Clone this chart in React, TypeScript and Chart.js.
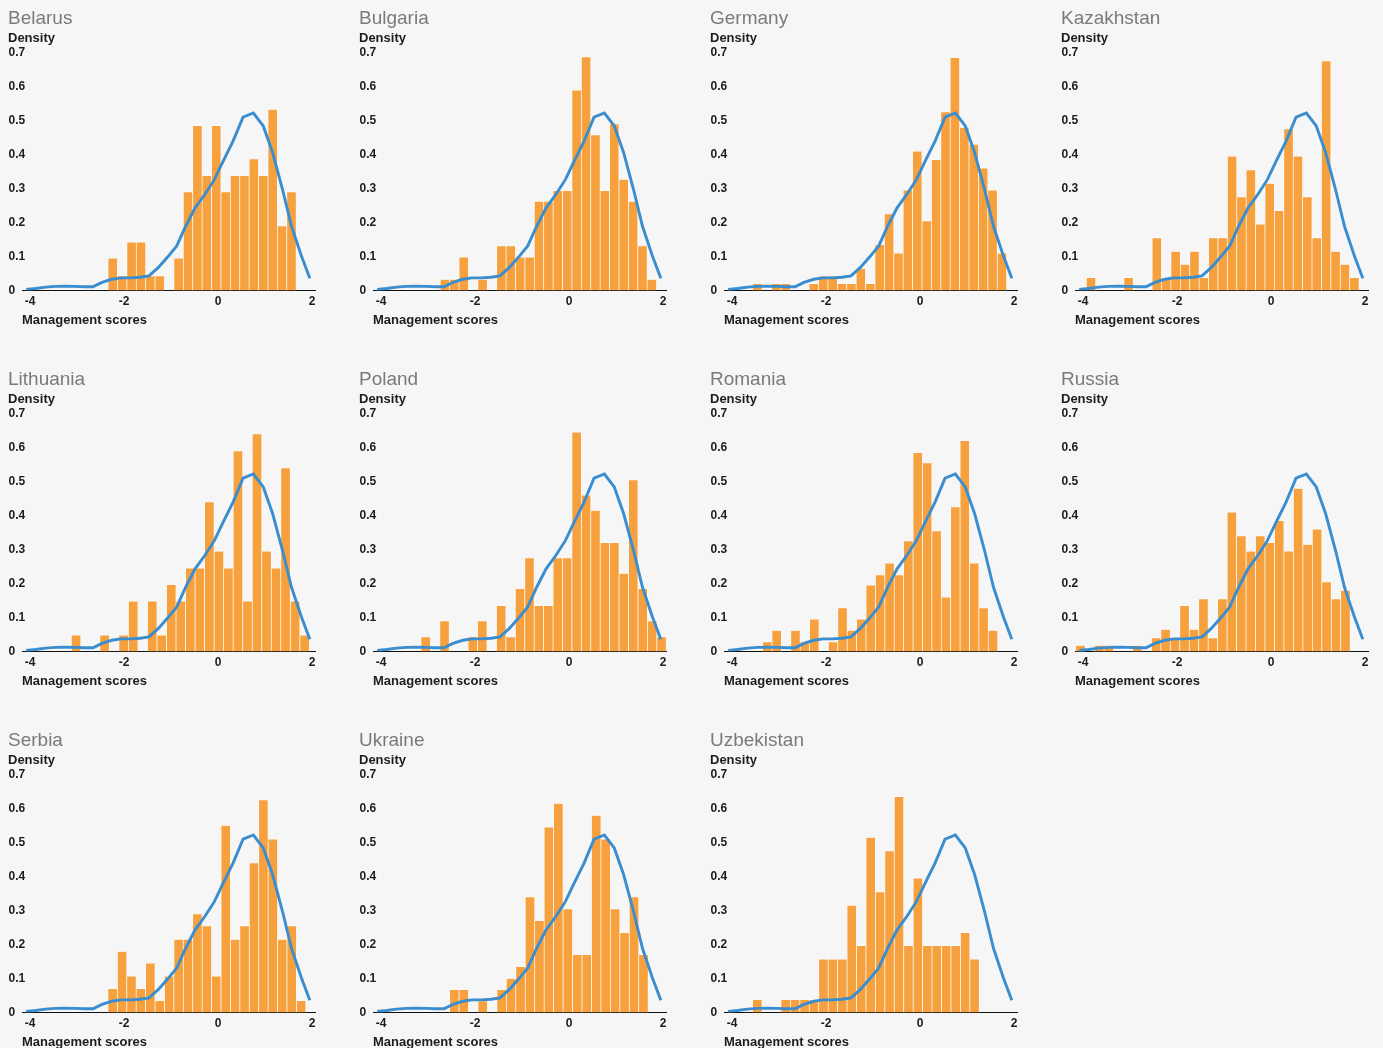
import React, { useEffect, useRef } from 'react';
import { Chart, registerables } from 'chart.js';

Chart.register(...registerables);

// ---------- shared axis data ----------
const xTicks = [-4, -2, 0, 2];
const yTicks = [0, 0.1, 0.2, 0.3, 0.4, 0.5, 0.6, 0.7];

// pooled kernel density (same curve in every panel)
const densityX = [-4.08, -3.88, -3.67, -3.46, -3.25, -3.04, -2.84, -2.66, -2.47, -2.26, -2.07, -1.87, -1.66, -1.47, -1.27, -1.07, -0.88, -0.69, -0.49, -0.28, -0.08, 0.11, 0.32, 0.53, 0.75, 0.96, 1.16, 1.37, 1.56, 1.77, 1.95];
const densityY = [0.003, 0.006, 0.010, 0.012, 0.013, 0.012, 0.011, 0.011, 0.024, 0.033, 0.037, 0.037, 0.039, 0.043, 0.068, 0.099, 0.131, 0.189, 0.243, 0.283, 0.326, 0.381, 0.440, 0.510, 0.522, 0.484, 0.405, 0.297, 0.189, 0.102, 0.036];

// ---------- histogram bins (bin centres) and densities ----------
const belarusBins = [-2.24, -2.04, -1.84, -1.64, -1.44, -1.24, -1.04, -0.84, -0.64, -0.44, -0.24, -0.04, 0.16, 0.36, 0.56, 0.76, 0.96, 1.16, 1.36, 1.56];
const belarusValues = [0.095, 0.043, 0.142, 0.142, 0.043, 0.043, 0, 0.095, 0.29, 0.485, 0.338, 0.485, 0.29, 0.338, 0.338, 0.387, 0.338, 0.533, 0.19, 0.29];

const bulgariaBins = [-2.64, -2.44, -2.24, -2.04, -1.84, -1.64, -1.44, -1.24, -1.04, -0.84, -0.64, -0.44, -0.24, -0.04, 0.16, 0.36, 0.56, 0.76, 0.96, 1.16, 1.36, 1.56, 1.76];
const bulgariaValues = [0.033, 0.033, 0.098, 0, 0.033, 0, 0.131, 0.131, 0.098, 0.098, 0.262, 0.262, 0.294, 0.294, 0.589, 0.687, 0.458, 0.294, 0.49, 0.327, 0.262, 0.131, 0.033];

const germanyBins = [-3.46, -3.26, -3.06, -2.86, -2.66, -2.46, -2.26, -2.06, -1.86, -1.66, -1.46, -1.26, -1.06, -0.86, -0.66, -0.46, -0.26, -0.06, 0.14, 0.34, 0.54, 0.74, 0.94, 1.14, 1.34, 1.54, 1.74];
const germanyValues = [0.02, 0, 0.02, 0.02, 0, 0, 0.02, 0.042, 0.042, 0.02, 0.02, 0.065, 0.02, 0.135, 0.225, 0.11, 0.295, 0.41, 0.205, 0.385, 0.525, 0.685, 0.48, 0.43, 0.36, 0.295, 0.11];

const kazakhstanBins = [-3.83, -3.63, -3.43, -3.23, -3.03, -2.83, -2.63, -2.43, -2.23, -2.03, -1.83, -1.63, -1.43, -1.23, -1.03, -0.83, -0.63, -0.43, -0.23, -0.03, 0.17, 0.37, 0.57, 0.77, 0.97, 1.17, 1.37, 1.57, 1.77];
const kazakhstanValues = [0.038, 0, 0, 0, 0.038, 0, 0, 0.155, 0.038, 0.115, 0.077, 0.115, 0.038, 0.155, 0.155, 0.395, 0.275, 0.355, 0.195, 0.315, 0.235, 0.475, 0.395, 0.275, 0.155, 0.675, 0.115, 0.077, 0.038];

const lithuaniaBins = [-3.021, -2.818, -2.616, -2.413, -2.211, -2.008, -1.806, -1.603, -1.401, -1.198, -0.996, -0.793, -0.591, -0.388, -0.186, 0.017, 0.219, 0.422, 0.624, 0.827, 1.029, 1.232, 1.434, 1.637, 1.839];
const lithuaniaValues = [0.048, 0, 0, 0.048, 0, 0.048, 0.148, 0, 0.148, 0.048, 0.197, 0.148, 0.245, 0.245, 0.44, 0.295, 0.245, 0.59, 0.148, 0.64, 0.295, 0.245, 0.54, 0.148, 0.048];

const polandBins = [-3.05, -2.849, -2.649, -2.448, -2.247, -2.047, -1.846, -1.645, -1.445, -1.244, -1.044, -0.843, -0.642, -0.442, -0.241, -0.041, 0.16, 0.361, 0.561, 0.762, 0.962, 1.163, 1.364, 1.564, 1.765, 1.965];
const polandValues = [0.043, 0, 0.09, 0, 0, 0.043, 0.09, 0, 0.135, 0.043, 0.185, 0.275, 0.135, 0.135, 0.275, 0.275, 0.645, 0.46, 0.415, 0.32, 0.32, 0.23, 0.505, 0.185, 0.09, 0.043];

const romaniaBins = [-3.25, -3.05, -2.85, -2.65, -2.45, -2.25, -2.05, -1.85, -1.65, -1.45, -1.25, -1.05, -0.85, -0.65, -0.45, -0.25, -0.05, 0.15, 0.35, 0.55, 0.75, 0.95, 1.15, 1.35, 1.55];
const romaniaValues = [0.028, 0.062, 0, 0.062, 0.028, 0.095, 0, 0.028, 0.128, 0.062, 0.095, 0.195, 0.225, 0.26, 0.225, 0.325, 0.585, 0.555, 0.355, 0.16, 0.425, 0.62, 0.26, 0.128, 0.062];

const russiaBins = [-4.055, -3.854, -3.653, -3.451, -3.25, -3.049, -2.848, -2.646, -2.445, -2.244, -2.042, -1.841, -1.64, -1.439, -1.237, -1.036, -0.835, -0.633, -0.432, -0.231, -0.03, 0.172, 0.373, 0.574, 0.776, 0.977, 1.178, 1.38, 1.581];
const russiaValues = [0.018, 0, 0.018, 0.018, 0, 0, 0.018, 0, 0.04, 0.065, 0.04, 0.135, 0.065, 0.155, 0.04, 0.155, 0.41, 0.34, 0.295, 0.34, 0.32, 0.385, 0.295, 0.48, 0.315, 0.36, 0.205, 0.155, 0.18];

const serbiaBins = [-2.243, -2.042, -1.842, -1.642, -1.441, -1.241, -1.041, -0.84, -0.64, -0.44, -0.239, -0.039, 0.162, 0.362, 0.562, 0.763, 0.963, 1.164, 1.364, 1.564, 1.765];
const serbiaValues = [0.07, 0.18, 0.107, 0.07, 0.145, 0.035, 0.107, 0.215, 0.215, 0.29, 0.255, 0.107, 0.55, 0.215, 0.255, 0.44, 0.625, 0.51, 0.215, 0.255, 0.035];

const ukraineBins = [-2.441, -2.239, -2.038, -1.837, -1.636, -1.435, -1.234, -1.033, -0.832, -0.631, -0.43, -0.229, -0.027, 0.174, 0.375, 0.576, 0.777, 0.978, 1.179, 1.38, 1.581];
const ukraineValues = [0.067, 0.067, 0, 0.034, 0, 0.067, 0.1, 0.135, 0.34, 0.27, 0.545, 0.615, 0.305, 0.17, 0.17, 0.58, 0.51, 0.305, 0.235, 0.34, 0.17];

const uzbekistanBins = [-3.461, -3.26, -3.059, -2.858, -2.657, -2.457, -2.256, -2.055, -1.854, -1.654, -1.453, -1.252, -1.051, -0.85, -0.65, -0.449, -0.248, -0.047, 0.154, 0.354, 0.555, 0.756, 0.957, 1.158];
const uzbekistanValues = [0.038, 0, 0, 0.038, 0.038, 0.038, 0.038, 0.157, 0.157, 0.157, 0.315, 0.197, 0.515, 0.355, 0.475, 0.635, 0.197, 0.395, 0.197, 0.197, 0.197, 0.197, 0.235, 0.157];

const countries = ['Belarus', 'Bulgaria', 'Germany', 'Kazakhstan', 'Lithuania', 'Poland', 'Romania', 'Russia', 'Serbia', 'Ukraine', 'Uzbekistan'];
const countryBins = [belarusBins, bulgariaBins, germanyBins, kazakhstanBins, lithuaniaBins, polandBins, romaniaBins, russiaBins, serbiaBins, ukraineBins, uzbekistanBins];
const countryValues = [belarusValues, bulgariaValues, germanyValues, kazakhstanValues, lithuaniaValues, polandValues, romaniaValues, russiaValues, serbiaValues, ukraineValues, uzbekistanValues];

// ---------- styling ----------
const FONT = "'Liberation Sans', Arial, Helvetica, sans-serif";
const BG = '#f6f6f6';
const ORANGE = '#f7a03e';
const BLUE = '#3a8dce';
const TEXT = '#1c1c1c';
const TITLE_GRAY = '#7a7a7a';
const PANEL_W = 351;
const PANEL_H = 361;

function Panel({ name, bins, values, left, top }: { name: string; bins: number[]; values: number[]; left: number; top: number }) {
  const ref = useRef<HTMLCanvasElement | null>(null);

  useEffect(() => {
    if (!ref.current) return;
    const chart = new Chart(ref.current, {
      type: 'bar',
      data: {
        datasets: [
          {
            type: 'line',
            data: densityX.map((x, i) => ({ x, y: densityY[i] })),
            borderColor: BLUE,
            borderWidth: 2.9,
            pointRadius: 0,
            tension: 0,
            fill: false,
            order: 0,
          } as any,
          {
            type: 'bar',
            data: bins.map((x, i) => ({ x, y: values[i] })),
            backgroundColor: ORANGE,
            borderColor: 'rgba(255,255,255,0.75)',
            borderWidth: 0.7,
            barPercentage: 1,
            categoryPercentage: 1,
            order: 1,
          } as any,
        ],
      },
      options: {
        responsive: false,
        animation: false,
        devicePixelRatio: 1,
        layout: { padding: { left: 8, right: 36, top: 0, bottom: 0 } },
        plugins: {
          legend: { display: false },
          tooltip: { enabled: false },
          title: {
            display: true,
            text: name,
            align: 'start',
            color: TITLE_GRAY,
            font: { family: FONT, size: 19, weight: 'normal', lineHeight: 1.2 },
            padding: { top: 7.5, bottom: 0 },
          },
          subtitle: {
            display: true,
            text: 'Density',
            align: 'start',
            color: TEXT,
            font: { family: FONT, size: 13, weight: 'bold', lineHeight: 1.2 },
            padding: { top: 0.7, bottom: 5.9 },
          },
        },
        scales: {
          x: {
            type: 'linear',
            min: -4.17,
            max: 2.06,
            offset: false,
            z: 1,
            grid: { display: false, drawTicks: false, tickLength: 0 },
            border: { display: true, color: '#111111', width: 1 },
            afterBuildTicks: (s: any) => {
              s.ticks = xTicks.map((v) => ({ value: v }));
            },
            afterFit: (s: any) => {
              s.height = 70.5;
            },
            ticks: {
              color: TEXT,
              font: { family: FONT, size: 12, weight: 'bold' },
              padding: 4,
              maxRotation: 0,
              autoSkip: false,
              callback: (v: any) => String(v),
            },
            title: {
              display: true,
              text: 'Management scores',
              align: 'start',
              color: TEXT,
              font: { family: FONT, size: 13, weight: 'bold', lineHeight: 1.2 },
              padding: { top: 0, bottom: 32.7 },
            },
          },
          y: {
            type: 'linear',
            min: 0,
            max: 0.7,
            grid: { display: false, drawTicks: false, tickLength: 0 },
            border: { display: false },
            afterBuildTicks: (s: any) => {
              s.ticks = yTicks.map((v) => ({ value: v }));
            },
            afterFit: (s: any) => {
              s.width = 14;
            },
            ticks: {
              mirror: true,
              crossAlign: 'near',
              color: TEXT,
              font: { family: FONT, size: 12, weight: 'bold' },
              padding: -13.5,
              autoSkip: false,
              callback: (v: any) => (Number(v) === 0 ? '0' : Number(v).toFixed(1)),
            },
          },
        },
      } as any,
    });
    return () => chart.destroy();
  }, [name, bins, values]);

  return (
    <canvas
      ref={ref}
      width={PANEL_W}
      height={PANEL_H}
      style={{ position: 'absolute', left, top, width: PANEL_W, height: PANEL_H, display: 'block' }}
    />
  );
}

export default function App() {
  return (
    <div
      style={{
        position: 'absolute',
        left: 0,
        top: 0,
        width: 1383,
        height: 1048,
        background: BG,
        overflow: 'hidden',
      }}
    >
      {countries.map((name, i) => (
        <Panel
          key={name}
          name={name}
          bins={countryBins[i]}
          values={countryValues[i]}
          left={(i % 4) * PANEL_W}
          top={Math.floor(i / 4) * PANEL_H}
        />
      ))}
    </div>
  );
}
